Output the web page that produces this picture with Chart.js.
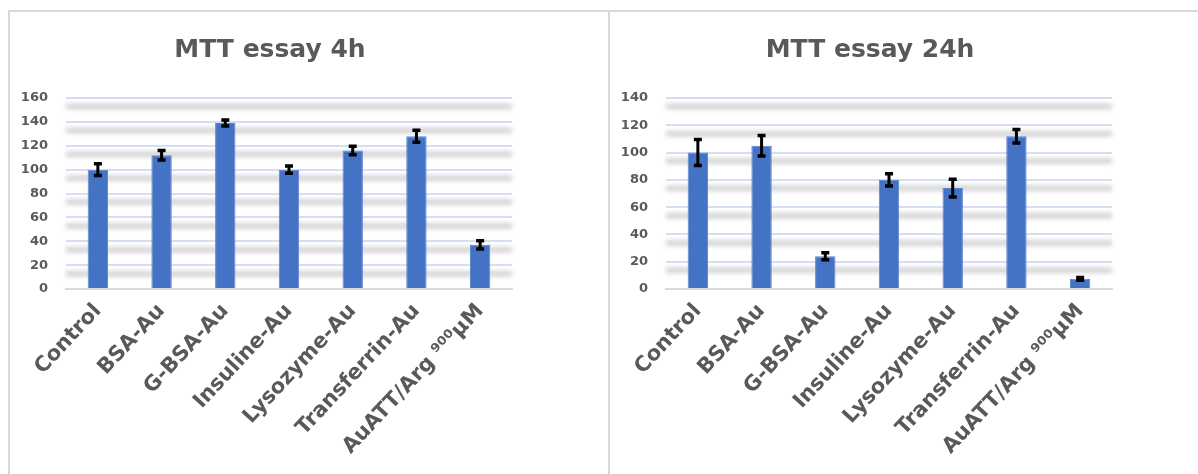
<!DOCTYPE html>
<html>
<head>
<meta charset="utf-8">
<script src="https://cdn.jsdelivr.net/npm/chart.js@4.4.1/dist/chart.umd.min.js"></script>
<style>
  html, body { margin: 0; padding: 0; background: #fff; }
  #page { position: relative; width: 1198px; height: 474px; overflow: hidden; }
  .panel { position: absolute; top: 10px; height: 470px; border-top: 2px solid #d9d9d9; border-left: 2px solid #d9d9d9; }
  #p1 { left: 8px; width: 598px; }
  #p2 { left: 608px; width: 600px; }
  canvas { display: block; }
</style>
</head>
<body>
<div id="page">
  <div class="panel" id="p1"><canvas id="chart4h"></canvas></div>
  <div class="panel" id="p2"><canvas id="chart24h"></canvas></div>
</div>
<script>
// MTT essay - cell viability after 4h and 24h

var labels = ['Control', 'BSA-Au', 'G-BSA-Au', 'Insuline-Au', 'Lysozyme-Au', 'Transferrin-Au', 'AuATT/Arg \u2079\u2070\u2070\u00B5M'];

var values4h = [100, 112, 139, 100, 116, 128, 37];
var errors4h = [5, 4, 2.5, 3, 3.5, 5, 3.5];
var ticks4h  = [0, 20, 40, 60, 80, 100, 120, 140, 160];

var values24h = [100, 105, 24, 80, 74, 112, 7.5];
var errors24h = [9.5, 7.5, 2.5, 4.5, 6.5, 5, 1];
var ticks24h  = [0, 20, 40, 60, 80, 100, 120, 140];

var textGray = '#595959';

// blurred gray bands just under each grid line
var shadowBands = {
  id: 'shadowBands',
  beforeDatasetsDraw: function(chart) {
    var ctx = chart.ctx, y = chart.scales.y, area = chart.chartArea;
    ctx.save();
    ctx.filter = 'blur(2px)';
    ctx.strokeStyle = '#d6d6d6';
    ctx.lineWidth = 6;
    y.ticks.forEach(function(t) {
      if (t.value <= 0) return;
      var py = y.getPixelForValue(t.value) + 8.5;
      ctx.beginPath();
      ctx.moveTo(area.left, py);
      ctx.lineTo(area.right, py);
      ctx.stroke();
    });
    ctx.restore();
  }
};

// black error bars with caps
var errorBars = {
  id: 'errorBars',
  afterDatasetsDraw: function(chart) {
    var ctx = chart.ctx, y = chart.scales.y;
    var ds = chart.data.datasets[0];
    var meta = chart.getDatasetMeta(0);
    ctx.save();
    ctx.strokeStyle = '#000';
    meta.data.forEach(function(bar, i) {
      var v = ds.data[i], e = ds.errors[i];
      var top = y.getPixelForValue(v + e), bot = y.getPixelForValue(v - e);
      ctx.lineWidth = 3;
      ctx.beginPath();
      ctx.moveTo(bar.x, top); ctx.lineTo(bar.x, bot);
      ctx.stroke();
      ctx.lineWidth = 3.5;
      ctx.beginPath();
      ctx.moveTo(bar.x - 4, top); ctx.lineTo(bar.x + 4, top);
      ctx.moveTo(bar.x - 4, bot); ctx.lineTo(bar.x + 4, bot);
      ctx.stroke();
    });
    ctx.restore();
  }
};

// title drawn a little left of the plot centre, as in the original
var chartTitle = {
  id: 'chartTitle',
  afterDraw: function(chart, args, opts) {
    var ctx = chart.ctx, area = chart.chartArea;
    ctx.save();
    ctx.fillStyle = textGray;
    ctx.font = 'bold 25px "DejaVu Sans"';
    ctx.textAlign = 'center';
    ctx.textBaseline = 'middle';
    ctx.fillText(opts.text, (area.left + area.right) / 2 - 19, 38);
    ctx.restore();
  }
};

function makeChart(id, title, values, errors, ticks, w, padRight) {
  var canvas = document.getElementById(id);
  canvas.width = w; canvas.height = 464;
  canvas.style.width = w + 'px'; canvas.style.height = '464px';
  return new Chart(canvas.getContext('2d'), {
    type: 'bar',
    data: {
      labels: labels,
      datasets: [{
        data: values,
        errors: errors,
        backgroundColor: '#4472c4',
        borderColor: '#5b85d0',
        borderWidth: 1,
        barPercentage: 0.32,
        categoryPercentage: 1
      }]
    },
    options: {
      responsive: false,
      animation: false,
      layout: { padding: { left: 0, right: padRight, top: 86, bottom: 0 } },
      plugins: {
        legend: { display: false },
        tooltip: { enabled: false },
        title: { display: false },
        chartTitle: { text: title }
      },
      scales: {
        x: {
          grid: { display: false, drawTicks: false },
          border: { color: '#d9d9d9', width: 2 },
          ticks: {
            color: textGray,
            font: { family: 'DejaVu Sans', weight: 'bold', size: 21 },
            minRotation: 47, maxRotation: 47,
            padding: 10,
            autoSkip: false
          },
          afterFit: function(s) { s.height = 187; }
        },
        y: {
          min: ticks[0],
          max: ticks[ticks.length - 1],
          afterBuildTicks: function(s) { s.ticks = ticks.map(function(v) { return { value: v }; }); },
          grid: { color: '#d5dff3', lineWidth: 2, drawTicks: false },
          border: { display: false },
          ticks: {
            color: textGray,
            font: { family: 'DejaVu Sans', weight: 'bold', size: 13 },
            padding: 18
          },
          afterFit: function(s) { s.width = 56; }
        }
      }
    },
    plugins: [shadowBands, errorBars, chartTitle]
  });
}

makeChart('chart4h', 'MTT essay 4h', values4h, errors4h, ticks4h, 598, 96);
makeChart('chart24h', 'MTT essay 24h', values24h, errors24h, ticks24h, 588, 86);
</script>
</body>
</html>
